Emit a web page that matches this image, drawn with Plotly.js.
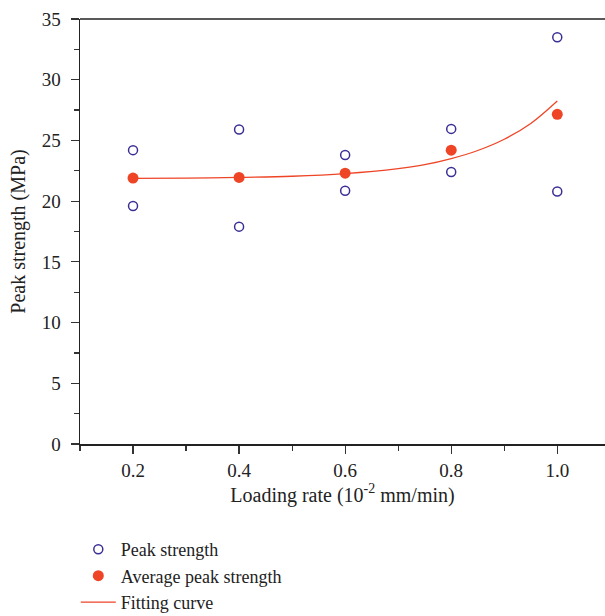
<!DOCTYPE html>
<html>
<head>
<meta charset="utf-8">
<script src="https://cdn.plot.ly/plotly-3.0.1.min.js"></script>
<style>html,body{margin:0;padding:0;background:#fff;}#chart{width:605px;height:616px;}</style>
</head>
<body>
<div id="chart"></div>
<script>
const loadingRate = [0.2, 0.4, 0.6, 0.8, 1.0];
const peakHigh = [24.2, 25.9, 23.8, 25.95, 33.5];
const peakLow = [19.6, 17.9, 20.85, 22.4, 20.8];
const averagePeak = [21.9, 21.95, 22.3, 24.2, 27.15];
const fitX = [0.2, 0.3, 0.4, 0.5, 0.6, 0.7, 0.75, 0.8, 0.85, 0.9, 0.95, 1.0];
const fitY = [21.87, 21.9, 21.95, 22.05, 22.27, 22.68, 23.0, 23.5, 24.17, 25.1, 26.4, 28.25];
const xTicks = [0.2, 0.4, 0.6, 0.8, 1.0];
const xTickLabels = ['0.2', '0.4', '0.6', '0.8', '1.0'];
const yTicks = [0, 5, 10, 15, 20, 25, 30, 35];

const peakX = loadingRate.concat(loadingRate);
const peakY = peakHigh.concat(peakLow);

const serif = 'Liberation Serif, Times New Roman, serif';

const traces = [
  {
    x: peakX, y: peakY, type: 'scatter', mode: 'markers', name: 'Peak strength',
    marker: {symbol: 'circle-open', size: 9, color: '#3a2f96', line: {width: 1.5, color: '#3a2f96'}},
    cliponaxis: false
  },
  {
    x: loadingRate, y: averagePeak, type: 'scatter', mode: 'markers', name: 'Average peak strength',
    marker: {symbol: 'circle', size: 11, color: '#ee4526'},
    cliponaxis: false
  },
  {
    x: fitX, y: fitY, type: 'scatter', mode: 'lines', name: 'Fitting curve',
    line: {color: '#ee4526', width: 1.3, shape: 'spline'}
  }
];

const layout = {
  width: 605, height: 616,
  margin: {l: 80, r: 0, t: 19, b: 172, autoexpand: false},
  paper_bgcolor: '#fff', plot_bgcolor: '#fff',
  font: {family: serif, size: 20, color: '#222'},
  showlegend: true,
  legend: {
    x: -0.008, y: -0.205, xanchor: 'left', yanchor: 'top',
    font: {family: serif, size: 18, color: '#222'},
    itemwidth: 35, tracegroupgap: 0, bgcolor: 'rgba(0,0,0,0)'
  },
  xaxis: {
    range: [0.1, 1.09],
    tickmode: 'array', tickvals: xTicks, ticktext: xTickLabels,
    ticks: 'outside', ticklen: 8, tickwidth: 1.2, tickcolor: '#333',
    minor: {dtick: 0.2, tick0: 0.1, ticks: 'outside', ticklen: 5, tickwidth: 1.2, tickcolor: '#333', showgrid: false},
    showline: true, linecolor: '#222', linewidth: 1.5, mirror: false,
    showgrid: false, zeroline: false,
    ticklabelstandoff: 1,
    tickfont: {family: serif, size: 19, color: '#222'},
    title: {text: 'Loading rate (10<sup>-2</sup> mm/min)', font: {family: serif, size: 20, color: '#222'}, standoff: 4}
  },
  yaxis: {
    range: [0, 35],
    tickmode: 'array', tickvals: yTicks,
    ticks: 'outside', ticklen: 8, tickwidth: 1.2, tickcolor: '#333',
    minor: {dtick: 2.5, tick0: 0, ticks: 'outside', ticklen: 5, tickwidth: 1.2, tickcolor: '#333', showgrid: false},
    showline: true, linecolor: '#222', linewidth: 1.5,
    showgrid: false, zeroline: false,
    ticklabelstandoff: 6,
    tickfont: {family: serif, size: 19, color: '#222'},
    title: {text: 'Peak strength (MPa)', font: {family: serif, size: 20, color: '#222'}, standoff: 10}
  },
  shapes: [
    {type: 'line', xref: 'paper', yref: 'paper', x0: 0, x1: 1, y0: 1, y1: 1, line: {color: '#222', width: 1.5}}
  ]
};

Plotly.newPlot('chart', traces, layout, {displayModeBar: false, staticPlot: true});
</script>
</body>
</html>
